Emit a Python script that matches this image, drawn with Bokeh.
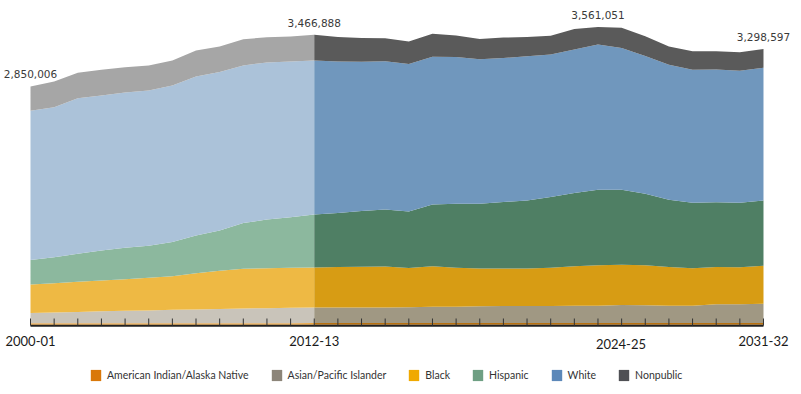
from bokeh.plotting import figure
from bokeh.models import ColumnDataSource, Range1d, Legend, LegendItem
from bokeh.core.properties import value
from bokeh.embed import file_html
from bokeh.resources import INLINE

# ---------------- data ----------------
years = [f"{y}-{str(y + 1)[-2:]}" for y in range(2000, 2032)]
last_actual = "2012-13"

aian = [18500, 18700, 18900, 19100, 19200, 19300, 19500, 19600, 19700, 19800, 19900, 20000, 20100,
        20200, 20300, 20300, 20400, 20400, 20500, 20500, 20600, 20600, 20700, 20700, 20800,
        20800, 20800, 20700, 20700, 20600, 20600, 20500]
asian_pi = [124000, 128000, 134000, 143000, 148000, 152000, 160000, 164000, 170000, 176000, 179000, 184000, 188000,
            188000, 188000, 188000, 188000, 196000, 196000, 200000, 203000, 203000, 203000, 208000, 208000,
            215000, 212000, 208000, 208000, 224000, 224000, 232000]
black = [338000, 350000, 361000, 367000, 378000, 391000, 402000, 434000, 457000, 475000, 478000, 478000, 478000,
         482000, 487000, 490000, 470000, 483000, 466000, 454000, 451000, 451000, 459000, 470000, 482000,
         483000, 478000, 461000, 446000, 446000, 442000, 454000]
hispanic = [295000, 311000, 335000, 359000, 375000, 383000, 407000, 451000, 482000, 545000, 582000, 605000, 634000,
            646000, 666000, 681000, 676000, 738000, 765000, 774000, 793000, 813000, 844000, 876000, 905000,
            897000, 857000, 806000, 786000, 774000, 774000, 781000]
white = [1785000, 1793000, 1860000, 1853000, 1857000, 1857000, 1873000, 1901000, 1893000, 1885000, 1877000, 1862000, 1841000,
         1813000, 1785000, 1773000, 1764000, 1766000, 1753000, 1725000, 1722000, 1722000, 1706000, 1718000, 1734000,
         1693000, 1645000, 1614000, 1590000, 1587000, 1578000, 1587000]
nonpublic = [289506, 307000, 304000, 307000, 302000, 299000, 299000, 311000, 307000, 314000, 302000, 299000, 305788,
             292000, 283000, 275000, 270000, 275000, 259000, 243000, 244000, 231000, 224000, 243000, 211251,
             244000, 236000, 219000, 219000, 219000, 219000, 224097]
labeled_years = ["2000-01", "2012-13", "2024-25", "2031-32"]
axis_labels = ["2000-01", "2012-13", "2024-25", "2031-32"]

series_names = ["American Indian/Alaska Native", "Asian/Pacific Islander", "Black", "Hispanic", "White", "Nonpublic"]
series = [aian, asian_pi, black, hispanic, white, nonpublic]

hist_colors = ["#eda43c", "#c9c4ba", "#eeb944", "#8cb89e", "#abc2d9", "#a6a6a6"]
proj_colors = ["#b8700f", "#a09883", "#d79c14", "#4f7f64", "#7097bd", "#5a5a5a"]
legend_colors = ["#d9780a", "#8c8579", "#f0a900", "#6e9f83", "#5c88b9", "#4f5054"]

# ---------------- layout ----------------
W, H = 800, 392
PX_PER_UNIT_X = 23.645          # pixels per year
VAL_PER_PX = 11956.0            # enrollment per pixel
LEFT_PAD = 30
BASE_FROM_TOP = 324.3

n = len(years)
xs = list(range(n))
split = years.index(last_actual)

x_lo = -LEFT_PAD / PX_PER_UNIT_X
x_hi = x_lo + W / PX_PER_UNIT_X
y_hi = BASE_FROM_TOP * VAL_PER_PX
y_lo = -(H - BASE_FROM_TOP) * VAL_PER_PX

p = figure(width=W, height=H, output_backend="svg", toolbar_location=None,
           x_range=Range1d(x_lo, x_hi), y_range=Range1d(y_lo, y_hi),
           min_border=0, min_border_left=0, min_border_right=0,
           min_border_top=0, min_border_bottom=0)
p.axis.visible = False
p.grid.visible = False
p.outline_line_color = None
p.background_fill_color = "white"
p.border_fill_color = "white"

# stacked areas
lower = [0.0] * n
for vals, hc, pc in zip(series, hist_colors, proj_colors):
    upper = [a + b for a, b in zip(lower, vals)]
    p.varea(x=xs[:split + 1], y1=lower[:split + 1], y2=upper[:split + 1], fill_color=hc)
    p.varea(x=xs[split:], y1=lower[split:], y2=upper[split:], fill_color=pc)
    lower = upper
totals = lower

# axis line and ticks
axis_y = -0.85 * VAL_PER_PX
p.segment(x0=[xs[0]], y0=[axis_y], x1=[xs[-1]], y1=[axis_y], line_color="#222222", line_width=2)
p.segment(x0=xs, y0=[axis_y] * n, x1=xs, y1=[6.3 * VAL_PER_PX] * n, line_color="#333333", line_width=1)

# total labels
lab_idx = [years.index(y) for y in labeled_years]
tot_src = ColumnDataSource(dict(
    x=[xs[i] for i in lab_idx],
    y=[totals[i] for i in lab_idx],
    t=[f"{int(round(totals[i])):,}" for i in lab_idx],
))
p.text(x="x", y="y", text="t", y_offset=-12, source=tot_src,
       text_align="center", text_baseline="middle", text_font=value("DejaVu Sans"),
       text_font_size="10.5px", text_color="#3a3a3a")

# x axis labels
ax_idx = [years.index(y) for y in axis_labels]
ax_src = ColumnDataSource(dict(
    x=[xs[i] for i in ax_idx],
    y=[0] * len(ax_idx),
    t=axis_labels,
    xo=[0, 0, 23, 0],
    yo=[16, 16, 19.5, 16],
))
p.text(x="x", y="y", text="t", x_offset="xo", y_offset="yo", source=ax_src,
       text_align="center", text_baseline="middle", text_font=value("Lato"),
       text_font_size="13px", text_color="#1a1a1a")

# legend (proxy renderers placed outside the visible range)
items = []
off_x = x_hi + 5
for name, c in zip(series_names, legend_colors):
    r = p.quad(left=[off_x], right=[off_x + 1], bottom=[0], top=[1], fill_color=c, line_color=None)
    items.append(LegendItem(label=name, renderers=[r]))
legend = Legend(items=items, orientation="horizontal", location=(89, H - 382),
                glyph_width=13, glyph_height=14, label_height=14, label_width=0,
                label_standoff=5, spacing=21, padding=0, margin=0,
                border_line_color=None, background_fill_alpha=0,
                label_text_font="Lato", label_text_font_size="10.5px",
                label_text_color="#333333", label_text_baseline="middle")
p.add_layout(legend)

open("out.html", "w").write(file_html(p, INLINE))
